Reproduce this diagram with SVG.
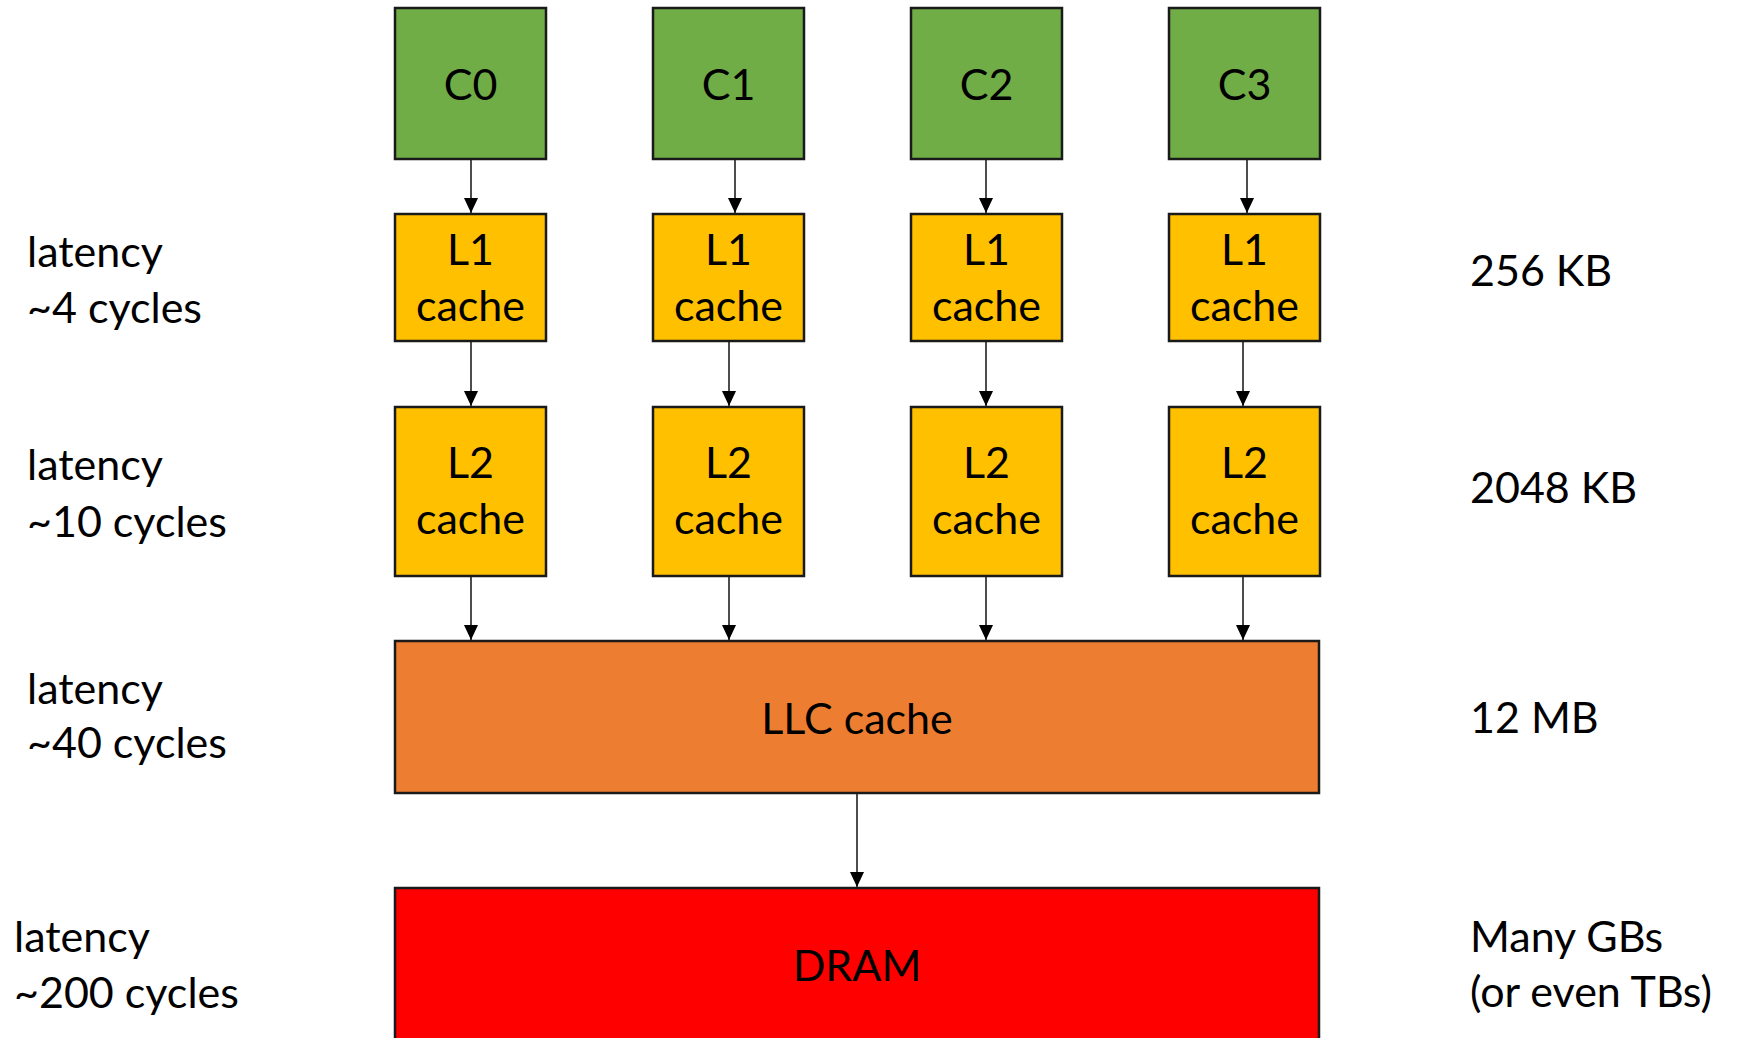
<svg xmlns="http://www.w3.org/2000/svg" width="1742" height="1038" viewBox="0 0 1742 1038">
<defs>
<marker id="ah" markerWidth="15" markerHeight="14" refX="15" refY="7" orient="auto" markerUnits="userSpaceOnUse">
<path d="M0,0 L15,7 L0,14 Z" fill="#000"/>
</marker>
<style>
text{font-family:"Lato","Open Sans","Liberation Sans",sans-serif;font-size:43px;fill:#000}
.c{text-anchor:middle}
.box{stroke:#1a1a1a;stroke-width:2.5}
.core{fill:#70AD47}
.cache{fill:#FFC000}
.llc{fill:#ED7D31}
.dram{fill:#FF0000}
.conn line{stroke:#000;stroke-width:1.4;marker-end:url(#ah)}
</style>
</defs>
<rect width="1742" height="1038" fill="#fff"/>
<g class="conn" id="connectors">
<line x1="471" y1="159" x2="471" y2="213"/>
<line x1="735" y1="159" x2="735" y2="213"/>
<line x1="986" y1="159" x2="986" y2="213"/>
<line x1="1247" y1="159" x2="1247" y2="213"/>
<line x1="471" y1="341" x2="471" y2="406"/>
<line x1="729" y1="341" x2="729" y2="406"/>
<line x1="986" y1="341" x2="986" y2="406"/>
<line x1="1243" y1="341" x2="1243" y2="406"/>
<line x1="471" y1="577" x2="471" y2="640"/>
<line x1="729" y1="577" x2="729" y2="640"/>
<line x1="986" y1="577" x2="986" y2="640"/>
<line x1="1243" y1="577" x2="1243" y2="640"/>
<line x1="857" y1="793" x2="857" y2="887"/>
</g>
<g id="C0"><rect class="box core" x="395" y="8" width="151" height="151"/><text class="c" x="470.5" y="100">C0</text></g>
<g id="C1"><rect class="box core" x="653" y="8" width="151" height="151"/><text class="c" x="728.5" y="100">C1</text></g>
<g id="C2"><rect class="box core" x="911" y="8" width="151" height="151"/><text class="c" x="986.5" y="100">C2</text></g>
<g id="C3"><rect class="box core" x="1169" y="8" width="151" height="151"/><text class="c" x="1244.5" y="100">C3</text></g>
<g id="L1_0"><rect class="box cache" x="395" y="214" width="151" height="127"/><text class="c" x="470.5" y="265">L1</text><text class="c" x="470.5" y="321">cache</text></g>
<g id="L1_1"><rect class="box cache" x="653" y="214" width="151" height="127"/><text class="c" x="728.5" y="265">L1</text><text class="c" x="728.5" y="321">cache</text></g>
<g id="L1_2"><rect class="box cache" x="911" y="214" width="151" height="127"/><text class="c" x="986.5" y="265">L1</text><text class="c" x="986.5" y="321">cache</text></g>
<g id="L1_3"><rect class="box cache" x="1169" y="214" width="151" height="127"/><text class="c" x="1244.5" y="265">L1</text><text class="c" x="1244.5" y="321">cache</text></g>
<g id="L2_0"><rect class="box cache" x="395" y="407" width="151" height="169"/><text class="c" x="470.5" y="478">L2</text><text class="c" x="470.5" y="534">cache</text></g>
<g id="L2_1"><rect class="box cache" x="653" y="407" width="151" height="169"/><text class="c" x="728.5" y="478">L2</text><text class="c" x="728.5" y="534">cache</text></g>
<g id="L2_2"><rect class="box cache" x="911" y="407" width="151" height="169"/><text class="c" x="986.5" y="478">L2</text><text class="c" x="986.5" y="534">cache</text></g>
<g id="L2_3"><rect class="box cache" x="1169" y="407" width="151" height="169"/><text class="c" x="1244.5" y="478">L2</text><text class="c" x="1244.5" y="534">cache</text></g>
<g id="LLC"><rect class="box llc" x="395" y="641" width="924" height="152"/><text class="c" x="857" y="734">LLC cache</text></g>
<g id="DRAM"><rect class="box dram" x="395" y="888" width="924" height="160"/><text class="c" x="857" y="981">DRAM</text></g>
<g id="labels-left">
<text x="27" y="267">latency</text><text x="27" y="323">~4 cycles</text>
<text x="27" y="480">latency</text><text x="27" y="537">~10 cycles</text>
<text x="27" y="704">latency</text><text x="27" y="758">~40 cycles</text>
<text x="14" y="952">latency</text><text x="14" y="1008">~200 cycles</text>
</g>
<g id="labels-right">
<text x="1470" y="286">256 KB</text>
<text x="1470" y="503">2048 KB</text>
<text x="1470" y="733">12 MB</text>
<text x="1470" y="952">Many GBs</text>
<text x="1470" y="1007">(or even TBs)</text>
</g>
</svg>
